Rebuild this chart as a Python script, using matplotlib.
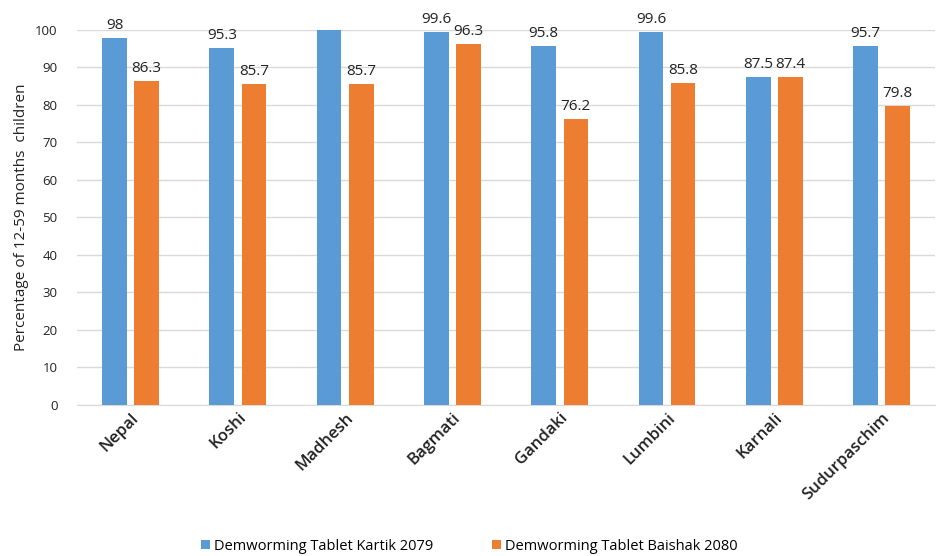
import numpy as np
import matplotlib.pyplot as plt

provinces = ["Nepal", "Koshi", "Madhesh", "Bagmati", "Gandaki", "Lumbini", "Karnali", "Sudurpaschim"]
kartik = [98, 95.3, 100, 99.6, 95.8, 99.6, 87.5, 95.7]
baishak = [86.3, 85.7, 85.7, 96.3, 76.2, 85.8, 87.4, 79.8]
series_names = ["Demworming Tablet Kartik 2079", "Demworming Tablet Baishak 2080"]

plt.rcParams['font.family'] = ['Open Sans', 'DejaVu Sans']

fig = plt.figure(figsize=(9.39, 5.56), dpi=100)
ax = fig.add_axes([0.082, 0.272, 0.914, 0.674])

x = np.arange(len(provinces))
w = 0.23
off = 0.15
b1 = ax.bar(x - off, kartik, w, color="#5B9BD5", label=series_names[0], zorder=3)
b2 = ax.bar(x + off, baishak, w, color="#ED7D31", label=series_names[1], zorder=3)

for xs, vals in ((x - off, kartik), (x + off, baishak)):
    for xi, v in zip(xs, vals):
        if v >= 100:
            continue  # label falls outside the chart in the original
        ax.text(xi, v + 1.3, f"{v:g}", ha="center", va="bottom", fontsize=11,
                color="#222222", clip_on=False)

ax.set_xlim(-0.5, len(provinces) - 0.5)
ax.set_ylim(0, 100)
ax.set_yticks(range(0, 101, 10))
ax.yaxis.grid(True, color="#d9d9d9", linewidth=1, zorder=0)
for s in ax.spines.values():
    s.set_visible(False)
ax.spines['bottom'].set_visible(True)
ax.spines['bottom'].set_color("#d9d9d9")
ax.tick_params(axis="both", length=0, labelsize=9.5, colors="#222222")
ax.tick_params(axis="y", pad=14)
ax.set_xticks(x)
ax.set_xticklabels(provinces, rotation=45, ha="right", rotation_mode="anchor",
                   fontsize=12, fontweight="semibold")
ax.set_ylabel("Percentage of 12-59 months  children", fontsize=11, color="#222222")

fig.legend(handles=[b1, b2], loc="lower center", ncol=2, frameon=False,
           fontsize=10.5, bbox_to_anchor=(0.5, -0.02), handlelength=0.6,
           handleheight=0.6, handletextpad=0.3, columnspacing=4.0)

fig.savefig("out.png", dpi=100)
